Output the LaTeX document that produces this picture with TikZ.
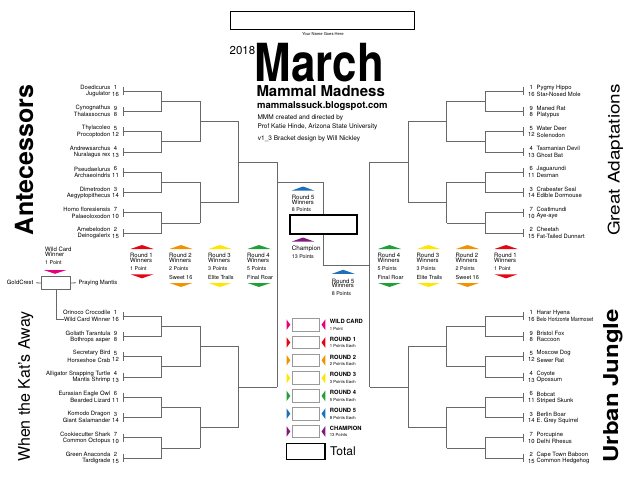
\documentclass[tikz,border=0pt]{standalone}
\usepackage{fontspec}
\setmainfont{TeX Gyre Heros}
\usetikzlibrary{positioning,calc}
\definecolor{mmline}{HTML}{686868}
\definecolor{mmgrey}{HTML}{9A9A9A}
\definecolor{mmwild}{HTML}{E6007E}
\definecolor{mmred}{HTML}{E30613}
\definecolor{mmorange}{HTML}{F39200}
\definecolor{mmyellow}{HTML}{FFE500}
\definecolor{mmgreen}{HTML}{22A038}
\definecolor{mmblue}{HTML}{1D6FB8}
\definecolor{mmpurple}{HTML}{82197F}
\newcommand{\fs}[1]{\fontsize{#1}{#1}\selectfont}
% one quarter of the bracket: #1 side ((-1) left, 1 right), #2 y of the first match line
\newcommand{\bracketquarter}[2]{%
  \foreach \k in {0,...,7} {
    \draw[bline] ({323.3+#1*200.3},{#2+20.3*\k-4.3}) -- ++(0,8.6);
    \draw[bline] ({323.3+#1*200.3},{#2+20.3*\k}) -- ({323.3+#1*161.8},{#2+20.3*\k});
  }
  \foreach \k in {0,...,3} {
    \draw[bline] ({323.3+#1*161.8},{#2+40.6*\k}) -- ++(0,20.3);
    \draw[bline] ({323.3+#1*161.8},{#2+40.6*\k+10.15}) -- ({323.3+#1*123.3},{#2+40.6*\k+10.15});
  }
  \foreach \k in {0,1} {
    \draw[bline] ({323.3+#1*123.3},{#2+81.2*\k+10.15}) -- ++(0,40.6);
    \draw[bline] ({323.3+#1*123.3},{#2+81.2*\k+30.45}) -- ({323.3+#1*84.8},{#2+81.2*\k+30.45});
  }
  \draw[bline] ({323.3+#1*84.8},{#2+30.45}) -- ++(0,81.2);
  \draw[bline] ({323.3+#1*84.8},{#2+71.05}) -- ({323.3+#1*46.3},{#2+71.05});
}
% #1 prefix, #2 anchor, #3 x of names, #4 x of seeds, #5 y of first line, #6 seed/name list
\newcommand{\teams}[6]{%
  \foreach \sd/\nm [count=\k from 0] in {#6} {
    \pgfmathsetmacro{\ty}{#5+20.3*int(\k/2)+6.6*mod(\k,2)-3.3}
    \node[team, anchor=#2] (#1\k) at (#3,\ty) {\nm};
    \node[seed] (#1s\k) at (#4,\ty) {\sd};
  }}

\begin{document}
\begin{tikzpicture}[x=1pt, y=-1pt,
  bline/.style={draw=mmline, line width=0.8pt},
  team/.style={font=\fs{5.9}, inner sep=0pt},
  seed/.style={font=\fs{5.9}, inner sep=0pt, anchor=center},
  rnd/.style={font=\fs{6}, inner sep=0pt, anchor=west},
  pts/.style={font=\fs{5.3}, inner sep=0pt, anchor=west},
  region/.style={rotate=90, inner sep=0pt},
  pick/.style={draw=mmgrey, line width=0.9pt, minimum width=27pt, minimum height=12.5pt, inner sep=0pt},
  bigbox/.style={draw=black, line width=1.3pt, inner sep=0pt},
]
  \useasboundingbox (0,0) rectangle (640,495);

  \node[bigbox, line width=1.1pt, minimum width=184pt, minimum height=18pt] (namebox) at (322.9,20.9) {};
  \node[font=\fs{4.1}, inner sep=0pt, below=1.6pt of namebox] (namehint) {Your Name Goes Here};
  \node[font=\fs{11.5}, anchor=base west, inner sep=0pt] (year) at (229.5,55) {2018};
  \node[font={\fs{52.5}\bfseries}, anchor=base west, inner sep=0pt] (march) at (254.6,81.5) {\scalebox{0.835}[1]{March}};
  \node[font={\fs{15}\bfseries}, anchor=base west, inner sep=0pt] (madness) at (256.3,96.2) {Mammal Madness};
  \node[font={\fs{9.5}\bfseries}, anchor=base west, inner sep=0pt] (blog) at (257,108.7) {mammalssuck.blogspot.com};
  \node[font=\fs{6.5}, anchor=west, inner sep=0pt] (credit1) at (257.3,118.3) {MMM created and directed by};
  \node[font=\fs{6.5}, anchor=west, inner sep=0pt] (credit2) at (257.3,126.7) {Prof Katie Hinde, Arizona State University};
  \node[font=\fs{6.5}, anchor=west, inner sep=0pt] (credit3) at (257.7,139.3) {v1\_3 Bracket design by Will Nickley};

  \node[region, font={\fs{25}\bfseries}] (antecessors) at (24.2,160) {Antecessors};
  \node[region, font=\fs{16}] (adaptations) at (615.5,160) {\scalebox{1.18}[1]{Great Adaptations}};
  \node[region, font=\fs{16}] (katsaway) at (25.8,386.7) {When the Kat's Away};
  \node[region, font={\fs{20.5}\bfseries}] (urban) at (613,385.8) {\scalebox{1.17}[1]{Urban Jungle}};

  \bracketquarter{(-1)}{91}
  \bracketquarter{1}{91}
  \bracketquarter{(-1)}{316}
  \bracketquarter{1}{316}
  \draw[bline] (277,162.05) -- (277,387.05);
  \draw[bline] (369.6,162.05) -- (369.6,387.05);

  \teams{tl}{east}{110.5}{115.5}{91}{1/Doedicurus, 16/Jugulator, 9/Cynognathus, 8/Thalassocnus,
    5/Thylacoleo, 12/Procoptodon, 4/Andrewsarchus, 13/Nuralagus rex, 6/Pseudaelurus, 11/Archaeoindris,
    3/Dimetrodon, 14/Aegyptopithecus, 7/Homo floresiensis, 10/Palaeoloxodon, 2/Amebelodon, 15/Deinogalerix}
  \teams{tr}{west}{536.5}{531.3}{91}{1/Pygmy Hippo, 16/Star-Nosed Mole, 9/Maned Rat, 8/Platypus,
    5/Water Deer, 12/Solenodon, 4/Tasmanian Devil, 13/Ghost Bat, 6/Jaguarundi, 11/Desman,
    3/Crabeater Seal, 14/Edible Dormouse, 7/Coatimundi, 10/Aye-aye, 2/Cheetah, 15/Fat-Tailed Dunnart}
  \teams{bl}{east}{110.5}{115.5}{316}{1/Orinoco Crocodile, 16/Wild Card Winner, 9/Goliath Tarantula, 8/Bothrops asper,
    5/Secretary Bird, 12/Horseshoe Crab, 4/Alligator Snapping Turtle, 13/Mantis Shrimp, 6/Eurasian Eagle Owl, 11/Bearded Lizard,
    3/Komodo Dragon, 14/Giant Salamander, 7/Cookiecutter Shark, 10/Common Octopus, 2/Green Anaconda, 15/Tardigrade}
  \teams{br}{west}{536.5}{531.3}{316}{1/Harar Hyena, 16/{\scalebox{0.85}[1]{Belo Horizonte Marmoset}}, 9/Bristol Fox, 8/Raccoon,
    5/Moscow Dog, 12/Sewer Rat, 4/Coyote, 13/Opossum, 6/Bobcat, 11/Striped Skunk,
    3/Berlin Boar, 14/E. Grey Squirrel, 7/Porcupine, 10/Delhi Rhesus, 2/Cape Town Baboon, 15/Common Hedgehog}

  \node[bigbox, minimum width=67pt, minimum height=19pt] (champ) at (323.5,224.5) {};
  \coordinate (semiL) at (277,182.7);
  \coordinate (semiR) at (369.6,265.7);
  \draw[bline] (champ.north) |- (semiL);
  \draw[bline] (champ.south) |- (semiR);

  \fill[mmblue] (292,190.5) -- (314,190.5) -- (303,186.5) -- cycle;
  \node[rnd] (r5l-a) at (291.7,197.3) {Round 5};
  \node[rnd] (r5l-b) at (291.7,202.3) {Winners};
  \node[pts] (r5l-c) at (291.7,210) {8 Points};
  \fill[mmpurple] (292,241.5) -- (314,241.5) -- (303,237.5) -- cycle;
  \node[rnd, font=\fs{6.3}] (champ-a) at (291.7,249) {Champion};
  \node[pts] (champ-c) at (291.7,256.3) {13 Points};
  \fill[mmblue] (332,273.8) -- (354.5,273.8) -- (343.2,269.8) -- cycle;
  \node[rnd] (r5r-a) at (331.7,281) {Round 5};
  \node[rnd] (r5r-b) at (331.7,285.7) {Winners};
  \node[pts] (r5r-c) at (331.7,293.3) {8 Points};

  \foreach \nm/\xl/\c/\r/\p/\sub/\dy in {l1/130/mmred/1/1 Point//274.3, l2/169/mmorange/2/2 Points/Sweet 16/283,
      l3/208/mmyellow/3/3 Points/Elite Trails/283, l4/247/mmgreen/4/5 Points/Final Roar/283,
      r4/377.5/mmgreen/4/5 Points/Final Roar/283, r3/416.5/mmyellow/3/3 Points/Elite Trails/283,
      r2/455.5/mmorange/2/2 Points/Sweet 16/283, r1/494/mmred/1/1 Point//274.3} {
    \fill[\c] (\xl+0.5,249) -- (\xl+23.5,249) -- (\xl+12,245) -- cycle;
    \node[rnd] (\nm-a) at (\xl,255.3) {Round \r};
    \node[rnd] (\nm-b) at (\xl,260.3) {Winners};
    \node[pts] (\nm-c) at (\xl,268.3) {\p};
    \ifx\sub\empty\else \node[pts, font=\fs{5.6}] (\nm-d) at (\xl,277) {\sub}; \fi
    \fill[\c] (\xl+0.5,\dy) -- (\xl+23.5,\dy) -- (\xl+12,\dy+4) -- cycle;
  }

  \node[rnd] (wc-a) at (45,249) {Wild Card};
  \node[rnd] (wc-b) at (45,254.7) {Winner};
  \node[pts] (wc-c) at (45,262.7) {1 Point};
  \fill[mmwild] (43.5,270) -- (66.5,270) -- (55,273.8) -- cycle;
  \node[draw=mmline, line width=0.8pt, minimum width=29pt, minimum height=12.6pt, inner sep=0pt] (wcbox) at (56.2,283) {};
  \node[team, anchor=east] (goldcrest) at (33.5,282.7) {GoldCrest};
  \node[team, anchor=west] (mantis) at (78.3,282.7) {Praying Mantis};
  \draw[bline, shorten <=2.5pt] (goldcrest.east) -- (wcbox.west);
  \draw[bline, shorten >=2.3pt] (wcbox.east) -- (mantis.west);
  \draw[bline] (wcbox.south) |- (bl1.west);

  \foreach \t/\p/\c [count=\i from 0] in {WILD CARD/1 Point/mmwild, ROUND 1/1 Points Each/mmred,
      ROUND 2/2 Points Each/mmorange, ROUND 3/3 Points Each/mmyellow, ROUND 4/5 Points Each/mmgreen,
      ROUND 5/8 Points Each/mmblue, CHAMPION/13 Points/mmpurple} {
    \pgfmathsetmacro{\by}{324.7+17.8*\i}
    \node[pick] (pick\i) at (305.8,\by) {};
    \fill[\c] (286.5,\by-5.3) -- (290.3,\by) -- (286.5,\by+5.3) -- cycle;
    \fill[\c] (325.3,\by-5.3) -- (321.5,\by) -- (325.3,\by+5.3) -- cycle;
    \node[font={\fs{5.8}\bfseries}, anchor=west, inner sep=0pt] (pickt\i) at (329.7,\by-3.3) {\t};
    \node[font=\fs{4.2}, anchor=west, inner sep=0pt] (pickp\i) at (329.7,\by+3.8) {\p};
  }
  \node[bigbox, minimum width=38.3pt, minimum height=16pt] (total) at (305.85,451.3) {};
  \node[font=\fs{12}, anchor=west, inner sep=0pt] (totaltxt) at (330,451.7) {Total};
\end{tikzpicture}
\end{document}
